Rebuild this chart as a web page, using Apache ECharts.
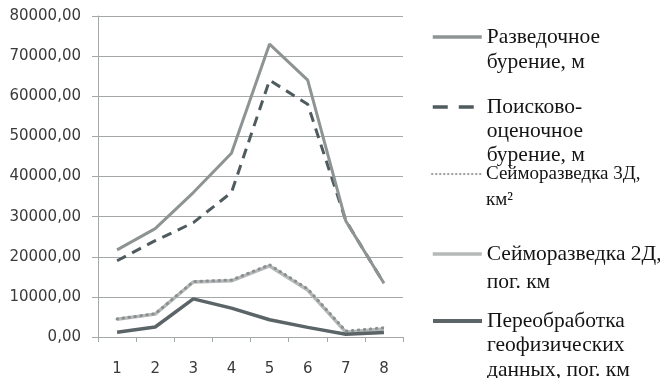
<!DOCTYPE html>
<html>
<head>
<meta charset="utf-8">
<script src="https://cdn.jsdelivr.net/npm/echarts@6/dist/echarts.min.js"></script>
<style>
  html, body { margin: 0; padding: 0; background: #fff; }
  #chart { width: 660px; height: 378px; }
</style>
</head>
<body>
<div id="chart"></div>
<script>
// Categories along the horizontal axis
const categories = ['1', '2', '3', '4', '5', '6', '7', '8'];

// Series names (legend labels) and values
const nameExplor = 'Разведочное\nбурение, м';
const nameSearch = 'Поисково-\nоценочное\nбурение, м';
const nameSeis3D = 'Сейморазведка 3Д,\nкм²';
const nameSeis2D = 'Сейморазведка 2Д,\nпог. км';
const nameReproc = 'Переобработка\nгеофизических\nданных, пог. км';

const explorDrilling = [21700, 27000, 36000, 45800, 73000, 64000, 28900, 13400];
const searchDrilling = [19000, 24000, 28500, 36000, 64000, 58000, 29000, 13400];
const seismic3D = [4500, 5800, 13800, 14200, 18000, 12000, 1500, 2300];
const seismic2D = [4400, 5700, 13700, 14000, 17700, 11700, 1200, 2000];
const reprocessing = [1200, 2500, 9500, 7200, 4300, 2400, 700, 1100];

// Y axis scale
const yMin = 0;
const yMax = 80000;
const yStep = 10000;

const gridColor = '#a4a8a8';
const axisFont = 'DejaVu Sans';
const legendFont = 'Liberation Serif';

// One legend block per series; leading blank lines keep the icon on the first text line
function legendFor(name, iconY, fontSize, lineH, lineStyle) {
  const lines = name.split('\n').length;
  return {
    data: [name],
    orient: 'vertical',
    left: 431,
    top: iconY - (2 * lines - 1) * lineH / 2,
    padding: 0,
    itemWidth: 49,
    itemHeight: 14,
    selectedMode: false,
    itemStyle: { opacity: 0, borderWidth: 0 },
    lineStyle: lineStyle,
    formatter: n => '\n'.repeat(lines - 1) + n,
    textStyle: {
      fontFamily: legendFont,
      fontSize: fontSize,
      color: '#141414',
      lineHeight: lineH
    }
  };
}

const chart = echarts.init(document.getElementById('chart'), null, { renderer: 'canvas' });

chart.setOption({
  animation: false,
  backgroundColor: '#ffffff',
  grid: { left: 98, right: 257, top: 16, bottom: 41 },
  legend: [
    legendFor(nameExplor, 37, 21.5, 25, { width: 3.5 }),
    legendFor(nameSearch, 107, 21.5, 24, { width: 3.5, type: [15, 11] }),
    legendFor(nameSeis3D, 174, 19, 26, { width: 2, type: [0.5, 3.5], cap: 'round', color: '#9a9e9f' }),
    legendFor(nameSeis2D, 254, 21.5, 28, { width: 3.5 }),
    legendFor(nameReproc, 321, 21.5, 24.5, { width: 4 })
  ],
  xAxis: {
    type: 'category',
    data: categories,
    boundaryGap: true,
    axisLine: { lineStyle: { color: gridColor, width: 1 } },
    axisTick: { show: true, length: 5, interval: 0, lineStyle: { color: gridColor } },
    axisLabel: { margin: 25, fontFamily: axisFont, fontSize: 15, color: '#3a3a3a' },
    splitLine: { show: false }
  },
  yAxis: {
    type: 'value',
    min: yMin,
    max: yMax,
    interval: yStep,
    axisLine: { show: true, lineStyle: { color: gridColor, width: 1 } },
    axisTick: { show: true, length: 6, lineStyle: { color: gridColor } },
    axisLabel: {
      margin: 17,
      fontFamily: axisFont,
      fontSize: 15,
      color: '#3a3a3a',
      formatter: v => v.toFixed(2).replace('.', ',')
    },
    splitLine: { show: true, lineStyle: { color: gridColor, width: 1 } }
  },
  series: [
    {
      name: nameExplor,
      type: 'line',
      data: explorDrilling,
      symbol: 'none',
      z: 3,
      color: '#8e9393',
      lineStyle: { color: '#8e9393', width: 3 }
    },
    {
      name: nameSearch,
      type: 'line',
      data: searchDrilling,
      symbol: 'none',
      z: 2,
      color: '#4f5b5f',
      lineStyle: { color: '#4f5b5f', width: 3, type: [10, 7] }
    },
    {
      name: nameSeis3D,
      type: 'line',
      data: seismic3D,
      symbol: 'none',
      z: 3,
      color: '#8a8f90',
      lineStyle: { color: '#8a8f90', width: 3, type: [0.5, 5.5], cap: 'round' }
    },
    {
      name: nameSeis2D,
      type: 'line',
      data: seismic2D,
      symbol: 'none',
      z: 2,
      color: '#b6b9b9',
      lineStyle: { color: '#b6b9b9', width: 3.5 }
    },
    {
      name: nameReproc,
      type: 'line',
      data: reprocessing,
      symbol: 'none',
      z: 3,
      color: '#5b6467',
      lineStyle: { color: '#5b6467', width: 3.5 }
    }
  ]
});
</script>
</body>
</html>
